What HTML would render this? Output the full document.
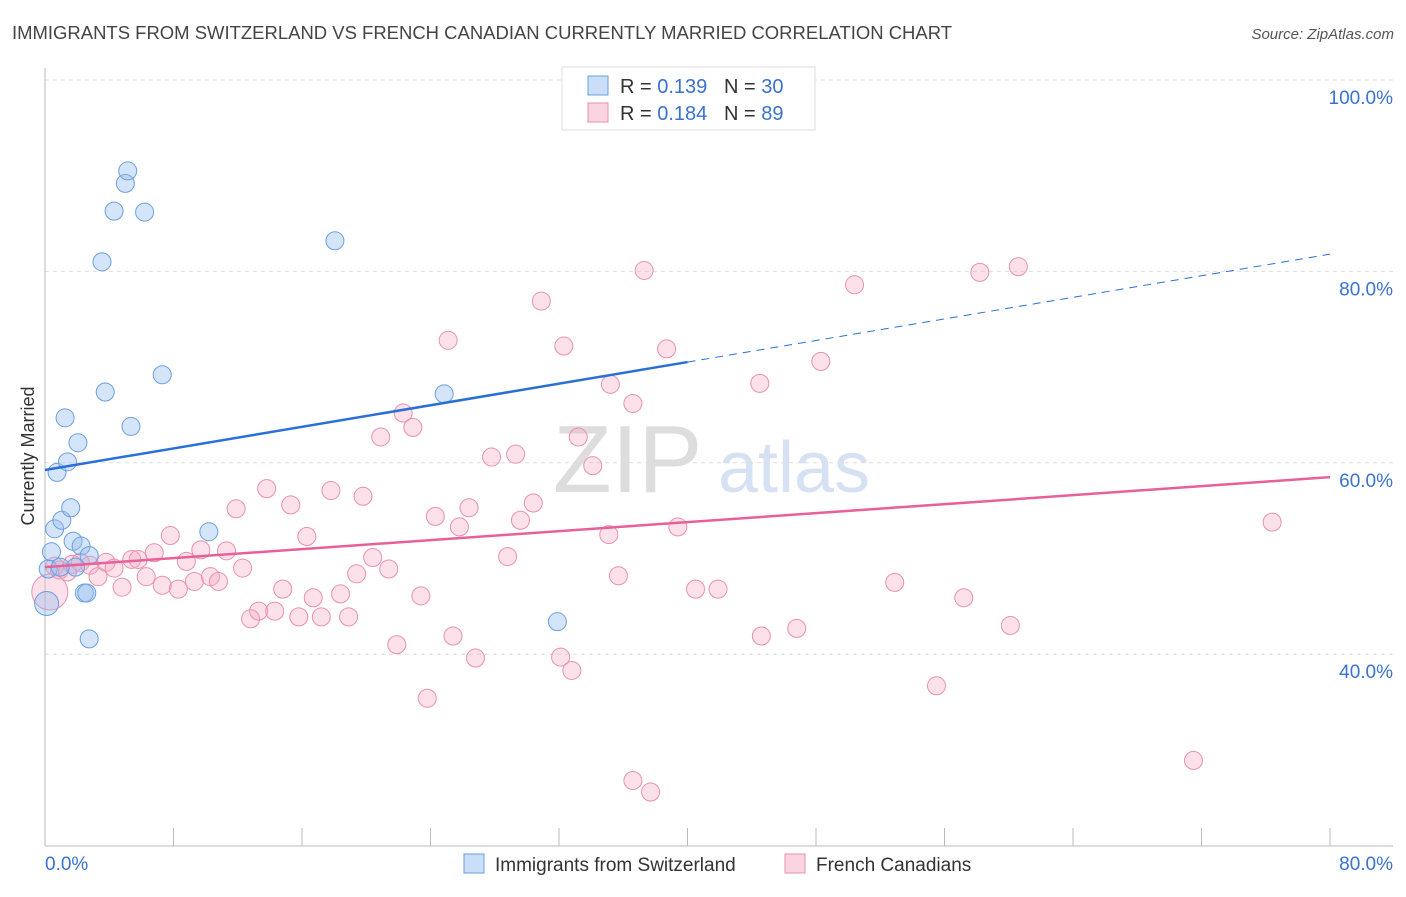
<!DOCTYPE html>
<html><head><meta charset="utf-8"><style>
body{margin:0;background:#fff;font-family:"Liberation Sans",sans-serif;}
svg text{font-family:"Liberation Sans",sans-serif;}
</style></head><body>
<svg id="chart" width="1406" height="892" viewBox="0 0 1406 892" xmlns="http://www.w3.org/2000/svg">
<text x="12" y="39" font-size="18" fill="#444" textLength="940" lengthAdjust="spacingAndGlyphs">IMMIGRANTS FROM SWITZERLAND VS FRENCH CANADIAN CURRENTLY MARRIED CORRELATION CHART</text>
<text x="1394" y="39" font-size="15" fill="#555" text-anchor="end" font-style="italic">Source: ZipAtlas.com</text>
<text x="553" y="492" font-size="96" fill="#ddd" font-family="Liberation Serif">ZIP</text>
<text x="718" y="492" font-size="72" fill="#d6e2f3">atlas</text>
<g id="grid"></g>
<g id="axes"></g>
<g id="marks"></g>
<text transform="translate(34,456) rotate(-90)" font-size="18" fill="#333" text-anchor="middle">Currently Married</text>
<g>
<rect x="562" y="67" width="253" height="63" fill="#fff" stroke="#ddd"/>
<rect x="588" y="76" width="20" height="19" fill="rgba(150,190,240,0.5)" stroke="#6a9fe0"/>
<rect x="588" y="103" width="20" height="19" fill="rgba(245,170,195,0.5)" stroke="#e890b0"/>
<text x="620" y="93" font-size="20" fill="#333">R = <tspan fill="#3a72d0">0.139</tspan>&#160;&#160;&#160;N = <tspan fill="#3a72d0">30</tspan></text>
<text x="620" y="120" font-size="20" fill="#333">R = <tspan fill="#3a72d0">0.184</tspan>&#160;&#160;&#160;N = <tspan fill="#3a72d0">89</tspan></text>
</g>
<g>
<rect x="464" y="854" width="20" height="19" fill="rgba(150,190,240,0.5)" stroke="#6a9fe0"/>
<text x="495" y="871" font-size="19" fill="#333">Immigrants from Switzerland</text>
<rect x="785" y="854" width="20" height="19" fill="rgba(245,170,195,0.5)" stroke="#e890b0"/>
<text x="816" y="871" font-size="19" fill="#333">French Canadians</text>
</g>
</svg>
<script>
const yTicks=[40,60,80,100];
const yTickLabels=["40.0%","60.0%","80.0%","100.0%"];
const xTicks=[0,8,16,24,32,40,48,56,64,72,80];
const blueX=[0.1,0.2,0.4,0.6,0.75,1.05,1.25,1.4,1.6,1.75,1.9,2.05,2.25,2.45,2.6,2.75,2.75,3.55,3.75,4.3,5.0,5.15,5.35,6.2,7.3,10.2,18.05,24.85,31.9,0.95];
const blueY=[45.3,48.9,50.7,53.1,59.0,54.0,64.7,60.1,55.3,51.8,49.1,62.1,51.3,46.4,46.4,50.3,41.6,81.0,67.4,86.3,89.2,90.5,63.8,86.2,69.2,52.8,83.2,67.2,43.4,49.1];
const pinkX=[0.3,0.6,0.9,1.4,1.7,2.2,2.8,3.3,3.8,4.3,4.8,5.4,5.8,6.3,6.8,7.3,7.8,8.3,8.8,9.3,9.7,10.3,10.8,11.3,11.9,12.3,12.8,13.3,13.8,14.3,14.8,15.3,15.8,16.3,16.7,17.2,17.8,18.4,18.9,19.4,19.8,20.4,20.9,21.4,21.9,22.3,22.9,23.4,23.8,24.3,25.1,25.4,25.8,26.4,26.8,27.8,28.8,29.3,29.6,30.4,30.9,32.1,32.3,32.8,33.2,34.1,35.1,35.2,35.7,36.6,36.6,37.3,37.7,38.7,39.4,40.5,41.9,44.5,44.6,46.8,48.3,50.4,52.9,55.5,57.2,58.2,60.1,60.6,71.5,76.4];
const pinkY=[46.5,49.2,48.8,48.6,49.4,49.6,49.3,48.1,49.6,49.0,47.0,49.9,49.9,48.1,50.6,47.2,52.4,46.8,49.7,47.6,50.9,48.1,47.6,50.8,55.2,49.0,43.7,44.5,57.3,44.5,46.8,55.6,43.9,52.3,45.9,43.9,57.1,46.3,43.9,48.4,56.5,50.1,62.7,48.9,41.0,65.2,63.7,46.1,35.4,54.4,72.8,41.9,53.3,55.3,39.6,60.6,50.2,60.9,54.0,55.8,76.9,39.7,72.2,38.3,62.7,59.7,52.5,68.2,48.2,26.8,66.2,80.1,25.6,71.9,53.3,46.8,46.8,68.3,41.9,42.7,70.6,78.6,47.5,36.7,45.9,79.9,43.0,80.5,28.9,53.8];
const blueTrend=[59.25,81.8];
const pinkTrend=[49.1,58.5];
const NS="http://www.w3.org/2000/svg";
const X=v=>45+v/80*1285;
const Y=v=>80+(100-v)*9.57;
function mk(t,a,p){const e=document.createElementNS(NS,t);for(const k in a)e.setAttribute(k,a[k]);p.appendChild(e);return e;}
const grid=document.getElementById('grid'),axes=document.getElementById('axes'),marks=document.getElementById('marks');
yTicks.forEach((t,i)=>{
 const l=mk('line',{x1:45,x2:1393,y1:Y(t),y2:Y(t),stroke:'#ddd','stroke-dasharray':'4,4'},grid);
 
 
 const tx=mk('text',{x:1393,y:Y(t)+24,'font-size':19,fill:'#3a72d0','text-anchor':'end'},axes);
 tx.textContent=yTickLabels[i];
 
 
});
const xa=mk('line',{x1:45,x2:1393,y1:846,y2:846,stroke:'#bbb'},axes);


const ya=mk('line',{x1:45,x2:45,y1:68,y2:846,stroke:'#bbb'},axes);


xTicks.forEach(t=>{const l=mk('line',{x1:X(t),x2:X(t),y1:828,y2:846,stroke:'#bbb'},axes);
 
 });
[[0,'0.0%',45,'start'],[80,'80.0%',1393,'end']].forEach(d=>{const t=mk('text',{x:d[2],y:870,'font-size':19,fill:'#3a72d0','text-anchor':d[3]},axes);t.textContent=d[1];
 
 });
pinkX.forEach((x,i)=>{const c=mk('circle',{cx:X(x),cy:Y(pinkY[i]),r:i==0?18:9,fill:'rgba(245,170,195,0.35)',stroke:'#e890b0','stroke-width':1},marks);
 
 });
blueX.forEach((x,i)=>{const c=mk('circle',{cx:X(x),cy:Y(blueY[i]),r:i==0?12:9,fill:'rgba(150,190,240,0.4)',stroke:'#6a9fe0','stroke-width':1},marks);
 
 });
const bm=blueTrend[0]+(blueTrend[1]-blueTrend[0])*0.5;
const b1=mk('line',{x1:X(0),y1:Y(blueTrend[0]),x2:X(40),y2:Y(bm),stroke:'#2a6fd6','stroke-width':2.5},marks);


const b2=mk('line',{x1:X(40),y1:Y(bm),x2:X(80),y2:Y(blueTrend[1]),stroke:'#2a6fd6','stroke-width':1,'stroke-dasharray':'8,6'},marks);


const p1=mk('line',{x1:X(0),y1:Y(pinkTrend[0]),x2:X(80),y2:Y(pinkTrend[1]),stroke:'#e8609a','stroke-width':2.5},marks);


</script>
</body></html>
